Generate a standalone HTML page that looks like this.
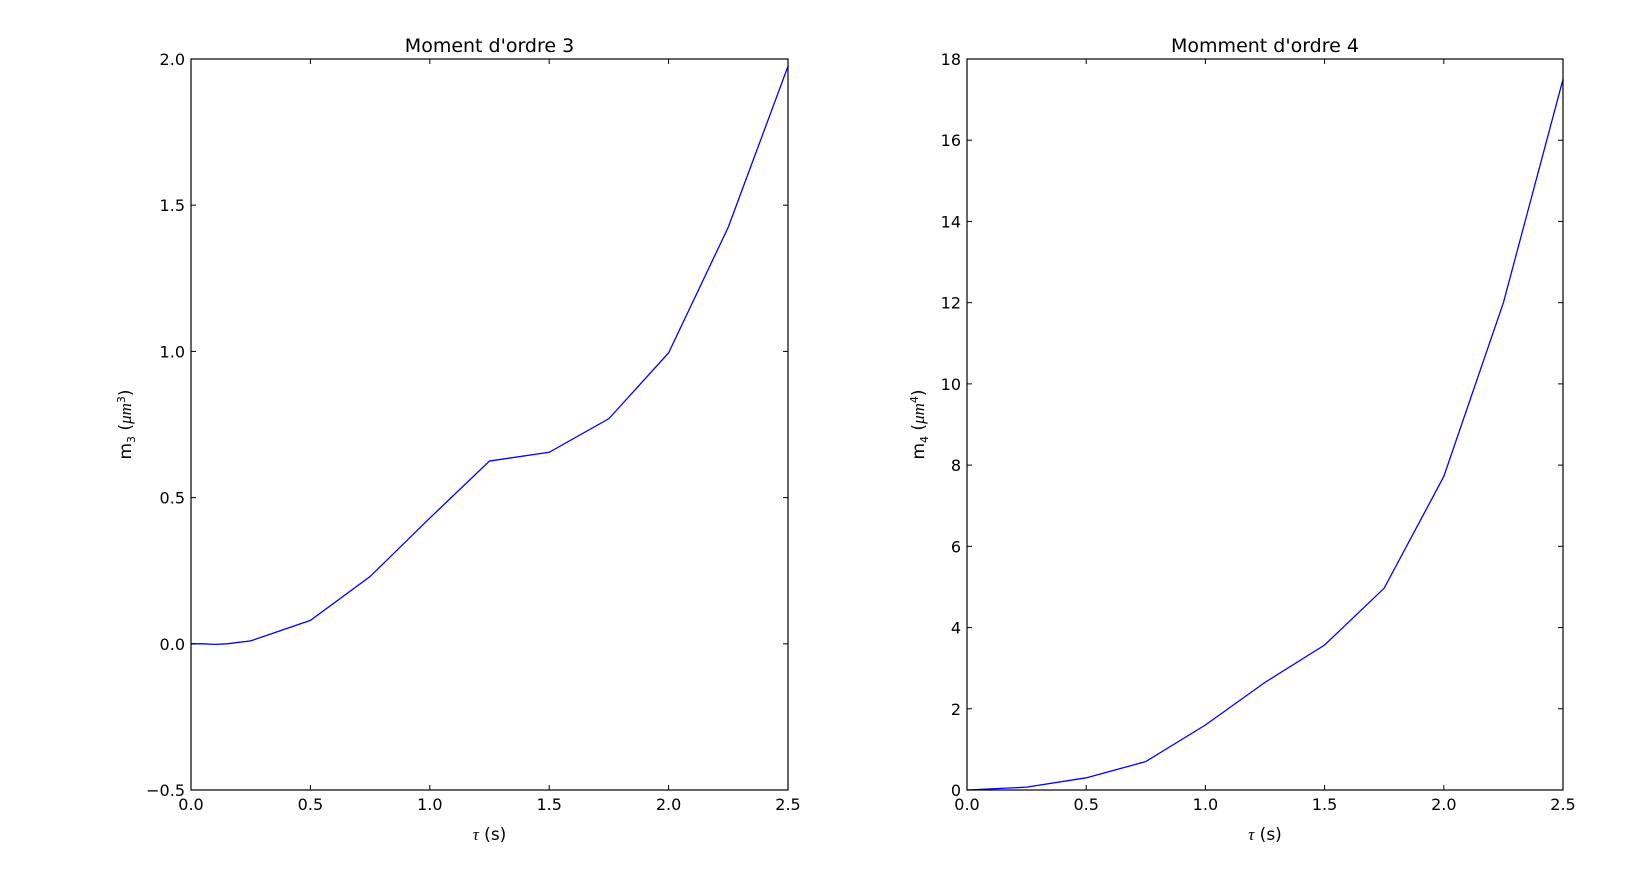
<!DOCTYPE html>
<html><head><meta charset="utf-8"><style>
html,body{margin:0;padding:0;background:#fff;}
svg{display:block;font-family:"DejaVu Sans","Liberation Sans",sans-serif;}
</style></head><body>
<svg id="fig" width="1626" height="887" xmlns="http://www.w3.org/2000/svg"></svg>
<script>
const xs3 = [0, 0.05, 0.1, 0.15, 0.25, 0.5, 0.75, 1.0, 1.25, 1.5, 1.75, 2.0, 2.25, 2.5];
const m3 = [0, 0, -0.002, 0.0, 0.01, 0.08, 0.23, 0.43, 0.625, 0.655, 0.77, 0.995, 1.425, 1.975];
const xs4 = [0, 0.25, 0.5, 0.75, 1.0, 1.25, 1.5, 1.75, 2.0, 2.25, 2.5];
const m4 = [0, 0.07, 0.3, 0.7, 1.6, 2.65, 3.57, 4.97, 7.72, 12.0, 17.5];
const xTicks = [0, 0.5, 1.0, 1.5, 2.0, 2.5];
const xTickLabels = ["0.0","0.5","1.0","1.5","2.0","2.5"];
const y3Ticks = [-0.5, 0, 0.5, 1.0, 1.5, 2.0];
const y3Labels = ["\u22120.5","0.0","0.5","1.0","1.5","2.0"];
const y4Ticks = [0,2,4,6,8,10,12,14,16,18];
const y4Labels = ["0","2","4","6","8","10","12","14","16","18"];

const NS = "http://www.w3.org/2000/svg";
const svg = document.getElementById('fig');
function mk(tag, attrs, parent){ const e=document.createElementNS(NS,tag); for(const k in attrs) e.setAttribute(k,attrs[k]); (parent||svg).appendChild(e); return e; }

function panel(cfg){
  const g = mk('g',{});
  
  
  const L=cfg.x0,R=cfg.x1,T=59,B=790;
  const sx=v=>L+(v-0)/(2.5-0)*(R-L);
  const sy=v=>B-(v-cfg.ymin)/(cfg.ymax-cfg.ymin)*(B-T);
  const pts=cfg.xs.map((x,i)=>sx(x).toFixed(2)+','+sy(cfg.ys[i]).toFixed(2)).join(' ');
  const pl=mk('polyline',{points:pts,fill:'none',stroke:'#0000ff','stroke-width':1.3},g);
  
  
  const fr=mk('rect',{x:L,y:T,width:R-L,height:B-T,fill:'none',stroke:'#000','stroke-width':1.2},g);
  
  
  xTicks.forEach((v,i)=>{
    const x=sx(v);
    mk('line',{x1:x,y1:B,x2:x,y2:B-5,stroke:'#000'},g);
    mk('line',{x1:x,y1:T,x2:x,y2:T+5,stroke:'#000'},g);
    const t=mk('text',{x:x,y:B+20,'font-size':16,'text-anchor':'middle'},g);
    t.textContent=xTickLabels[i];
    
    
  });
  cfg.yt.forEach((v,i)=>{
    const y=sy(v);
    mk('line',{x1:L,y1:y,x2:L+5,y2:y,stroke:'#000'},g);
    mk('line',{x1:R,y1:y,x2:R-5,y2:y,stroke:'#000'},g);
    const t=mk('text',{x:L-6,y:y+6,'font-size':16,'text-anchor':'end'},g);
    t.textContent=cfg.yl[i];
    
    
  });
  const ti=mk('text',{x:(L+R)/2,y:52,'font-size':19,'text-anchor':'middle'},g);
  ti.textContent=cfg.title;
  
  
  const xl=mk('text',{x:(L+R)/2,y:840,'font-size':17,'text-anchor':'middle'},g);
  xl.innerHTML='<tspan font-family="Liberation Serif, serif" font-style="italic">τ</tspan> (s)';
  
  
  const yl=mk('text',{x:0,y:0,'font-size':17,'text-anchor':'middle',transform:`translate(${L-cfg.yoff},${(T+B)/2}) rotate(-90)`},g);
  yl.innerHTML=`m<tspan font-size="11" dy="4">${cfg.sub}</tspan><tspan dy="-4"> (</tspan><tspan font-family="Liberation Serif, serif" font-style="italic">μm</tspan><tspan font-size="11" dy="-6">${cfg.sub}</tspan><tspan dy="6">)</tspan>`;
  
  
}
panel({name:'moment-3-chart',x0:191,x1:788,ymin:-0.5,ymax:2.0,xs:xs3,ys:m3,yt:y3Ticks,yl:y3Labels,title:"Moment d'ordre 3",sub:'3',yoff:60});
panel({name:'moment-4-chart',x0:967,x1:1563,ymin:0,ymax:18,xs:xs4,ys:m4,yt:y4Ticks,yl:y4Labels,title:"Momment d'ordre 4",sub:'4',yoff:43});
</script>
</body></html>
